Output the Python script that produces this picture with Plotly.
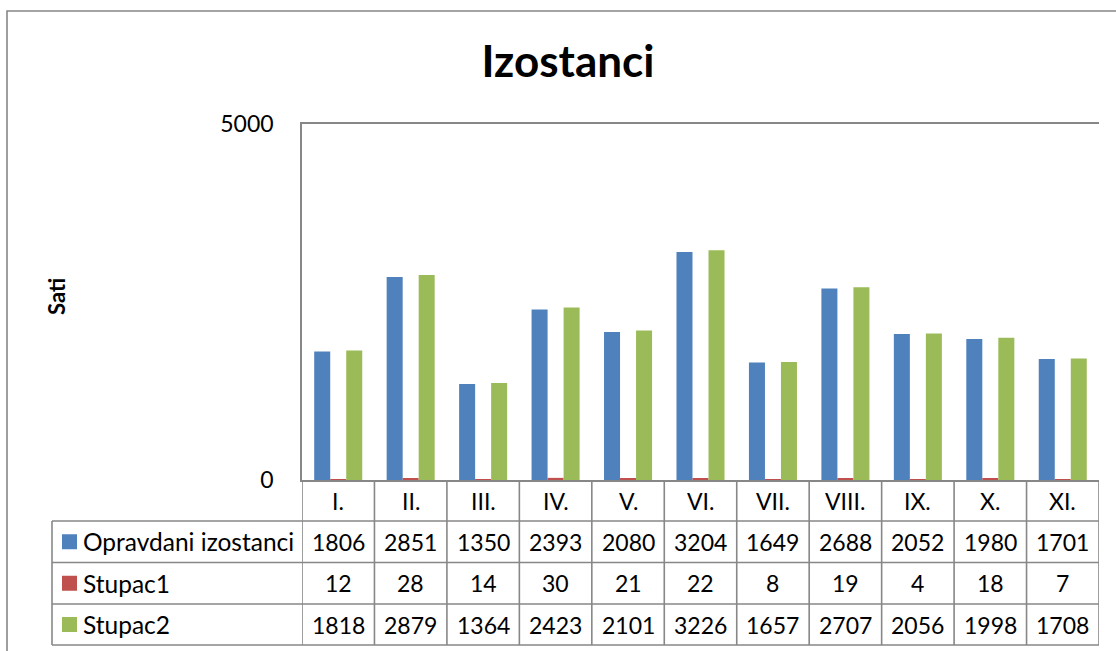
import plotly.graph_objects as go

categories = ["I.", "II.", "III.", "IV.", "V.", "VI.", "VII.", "VIII.", "IX.", "X.", "XI."]
series_names = ["Opravdani izostanci", "Stupac1", "Stupac2"]
opravdani = [1806, 2851, 1350, 2393, 2080, 3204, 1649, 2688, 2052, 1980, 1701]
stupac1 = [12, 28, 14, 30, 21, 22, 8, 19, 4, 18, 7]
stupac2 = [1818, 2879, 1364, 2423, 2101, 3226, 1657, 2707, 2056, 1998, 1708]
y_ticks = [0, 5000]

series_values = [opravdani, stupac1, stupac2]
colors = ["#4F81BD", "#C0504D", "#9BBB59"]
GRID = "#878787"
FONT = "Lato"

W, H = 1116, 651
L, R, T, B = 302, 1099, 124, 480  # plot area in pixels


def px2x(px):
    return (px - L) / (R - L)


def py2y(py):
    return (B - py) / (B - T)


fig = go.Figure()
xs = list(range(len(categories)))
for name, vals, col in zip(series_names, series_values, colors):
    fig.add_trace(go.Bar(x=xs, y=vals, name=name, marker=dict(color=col, line=dict(width=0)),
                         showlegend=False))

shapes = []
annotations = []

# outer chart border
shapes.append(dict(type="rect", xref="paper", yref="paper", x0=px2x(7), x1=px2x(1130),
                   y0=py2y(670), y1=py2y(11), line=dict(color=GRID, width=1.6), layer="below"))

# table row boundaries (pixel y)
row_edges = [521, 562.5, 604, 645]
for ry in row_edges:
    shapes.append(dict(type="line", xref="paper", yref="paper", x0=px2x(52), x1=1,
                       y0=py2y(ry), y1=py2y(ry), line=dict(color=GRID, width=1.6)))
# left border of table
shapes.append(dict(type="line", xref="paper", yref="paper", x0=px2x(52), x1=px2x(52),
                   y0=py2y(521), y1=py2y(645), line=dict(color=GRID, width=1.6)))
# vertical column separators (category boundaries)
for k in range(len(categories) + 1):
    shapes.append(dict(type="line", xref="x", yref="paper", x0=k - 0.5, x1=k - 0.5,
                       y0=0, y1=py2y(645), line=dict(color=GRID, width=1.6)))

row_centers = [(row_edges[i] + row_edges[i + 1]) / 2 for i in range(3)]
header_center = (480 + 521) / 2

fs = 23
fs_name = 24.5
# header labels
for i, c in enumerate(categories):
    annotations.append(dict(x=i, y=py2y(header_center), xref="x", yref="paper", text=c,
                            showarrow=False, font=dict(family=FONT, size=fs, color="black"),
                            xanchor="center", yanchor="middle"))
# rows
for r, (name, vals, col) in enumerate(zip(series_names, series_values, colors)):
    cy = row_centers[r]
    shapes.append(dict(type="rect", xref="paper", yref="paper", x0=px2x(62), x1=px2x(77),
                       y0=py2y(cy + 7.5), y1=py2y(cy - 7.5), fillcolor=col, line=dict(width=0)))
    annotations.append(dict(x=px2x(81), y=py2y(cy), xref="paper", yref="paper", text=name,
                            showarrow=False, font=dict(family=FONT, size=fs_name, color="black"),
                            xanchor="left", yanchor="middle"))
    for i, v in enumerate(vals):
        annotations.append(dict(x=i, y=py2y(cy), xref="x", yref="paper", text=str(v),
                                showarrow=False, font=dict(family=FONT, size=fs, color="black"),
                                xanchor="center", yanchor="middle"))

# y axis title
annotations.append(dict(x=px2x(56), y=py2y(297), xref="paper", yref="paper", text="<b>Sati</b>",
                        textangle=-90, showarrow=False,
                        font=dict(family=FONT, size=22, color="black"),
                        xanchor="center", yanchor="middle"))

fig.update_layout(
    width=W, height=H,
    margin=dict(l=L, r=W - R, t=T, b=H - B, pad=0),
    paper_bgcolor="white", plot_bgcolor="white",
    barmode="group", bargap=0.337, bargroupgap=0,
    title=dict(text="<b>Izostanci</b>", x=568 / W, xanchor="center",
               y=1 - 62 / H, yanchor="middle",
               font=dict(family=FONT, size=44, color="black")),
    xaxis=dict(range=[-0.5, len(categories) - 0.5], showticklabels=False, showgrid=False,
               zeroline=False, showline=True, mirror=True, linecolor=GRID, linewidth=1.6,
               ticks=""),
    yaxis=dict(range=[y_ticks[0], y_ticks[-1]], tickvals=y_ticks, ticktext=[str(t) for t in y_ticks],
               showgrid=False, zeroline=False, showline=True, linecolor=GRID, linewidth=1.6,
               ticks="outside", ticklen=22, tickcolor="rgba(0,0,0,0)",
               tickfont=dict(family=FONT, size=fs, color="black")),
    shapes=shapes, annotations=annotations,
)

fig.write_html("out.html", config={"displayModeBar": False},
               post_script="document.body.style.margin='0';document.body.style.overflow='hidden';")
